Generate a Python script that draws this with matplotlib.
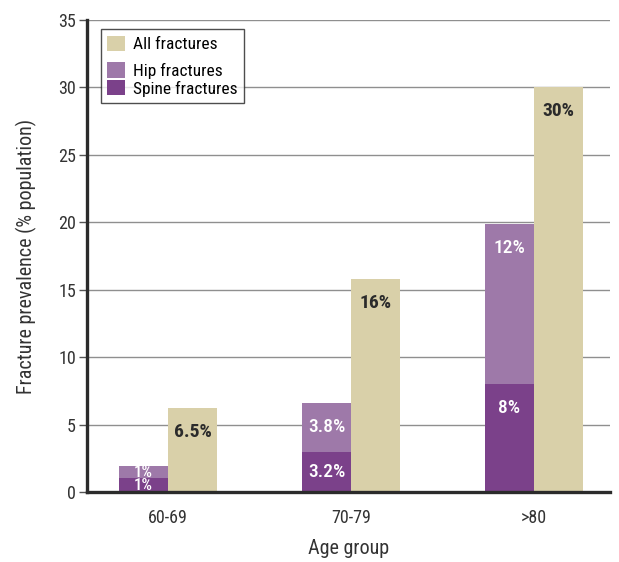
import matplotlib
matplotlib.use("Agg")
import matplotlib.pyplot as plt
from matplotlib import font_manager
from matplotlib.offsetbox import DrawingArea
import numpy as np

# data
groups = ["60-69", "70-79", ">80"]
spine = [1.0, 3.0, 8.0]
hip = [0.95, 3.6, 11.9]
all_fx = [6.2, 15.8, 30.0]
spine_lbl = ["1%", "3.2%", "8%"]
hip_lbl = ["1%", "3.8%", "12%"]
all_lbl = ["6.5%", "16%", "30%"]

TAN, HIP, SPINE = "#d9d0a9", "#9e79a9", "#7b418a"
DARK = "#2b2b2b"

names = {f.name for f in font_manager.fontManager.ttflist}
cands = ["Roboto Condensed", "Liberation Sans Narrow", "Open Sans Condensed", "Roboto"]
fam = next((c for c in cands if c in names), "DejaVu Sans")
plt.rcParams["font.family"] = [fam, "DejaVu Sans"]
narrow = fam in ("Roboto Condensed", "Liberation Sans Narrow")
TICK_FS = 13 if narrow else 11.5
LAB_FS = 14.5 if narrow else 13
BAR_FS = 14 if narrow else 12
LEG_FS = 12.5 if narrow else 11

fig = plt.figure(figsize=(6.19, 5.62), dpi=100)
ax = fig.add_axes([0.1405, 0.1246, 0.845, 0.8398])

x = np.arange(len(groups))
w = 0.268
b_sp = ax.bar(x - w / 2, spine, w, color=SPINE, zorder=3, label="Spine fractures")
b_hp = ax.bar(x - w / 2, hip, w, bottom=spine, color=HIP, zorder=3, label="Hip fractures")
b_all = ax.bar(x + w / 2, all_fx, w, color=TAN, zorder=3, label="All fractures")

ax.set_ylim(0, 35)
ax.set_xlim(-0.443, 2.415)
ax.set_yticks(range(0, 36, 5))
ax.set_xticks(x)
ax.set_xticklabels(groups)
ax.yaxis.grid(True, color="#8f8f8f", lw=1.0, zorder=0)
ax.set_axisbelow(True)
for s in ("top", "right"):
    ax.spines[s].set_visible(False)
for s in ("left", "bottom"):
    ax.spines[s].set_color(DARK)
    ax.spines[s].set_linewidth(2.4)
    ax.spines[s].set_zorder(4)
ax.tick_params(axis="y", length=6, width=1, color="#555", labelsize=TICK_FS, labelcolor="#333", pad=2)
ax.tick_params(axis="x", length=0, labelsize=TICK_FS, labelcolor="#333", pad=12)
ax.set_ylabel("Fracture prevalence (% population)", fontsize=LAB_FS, color="#333", labelpad=15)
ax.set_xlabel("Age group", fontsize=LAB_FS, color="#333", labelpad=9)

def put(xc, top, height, text, color, weight):
    # label sits a fixed distance below the segment top, or centred (and a bit smaller)
    # if the segment is short
    px = abs(ax.transData.transform((0, height))[1] - ax.transData.transform((0, 0))[1])
    off = min(24, px / 2) * 72 / fig.dpi
    fs = BAR_FS if px > 20 else BAR_FS - 2
    ax.annotate(text, (xc, top), xytext=(0, -off), textcoords="offset points",
                ha="center", va="center", color=color, fontsize=fs, weight=weight, zorder=5)

for i in range(len(groups)):
    put(x[i] - w / 2, spine[i], spine[i], spine_lbl[i], "white", "medium")
    put(x[i] - w / 2, spine[i] + hip[i], hip[i], hip_lbl[i], "white", "medium")
    put(x[i] + w / 2, all_fx[i], all_fx[i], all_lbl[i], DARK, "bold")

leg = ax.legend(handles=[b_all, b_hp, b_sp], loc="upper left", bbox_to_anchor=(0.027, 0.98),
                fontsize=LEG_FS, frameon=True, fancybox=False, edgecolor="#222",
                handlelength=1.0, handleheight=1.0, handletextpad=0.5,
                labelspacing=0.05, borderpad=0.35, borderaxespad=0)
leg.get_frame().set_linewidth(1.0)
# extra gap between "All fractures" and the two stacked entries
col = leg._legend_handle_box.get_children()[0]
col._children.insert(1, DrawingArea(1, 6))

fig.savefig("out.png", dpi=100)
